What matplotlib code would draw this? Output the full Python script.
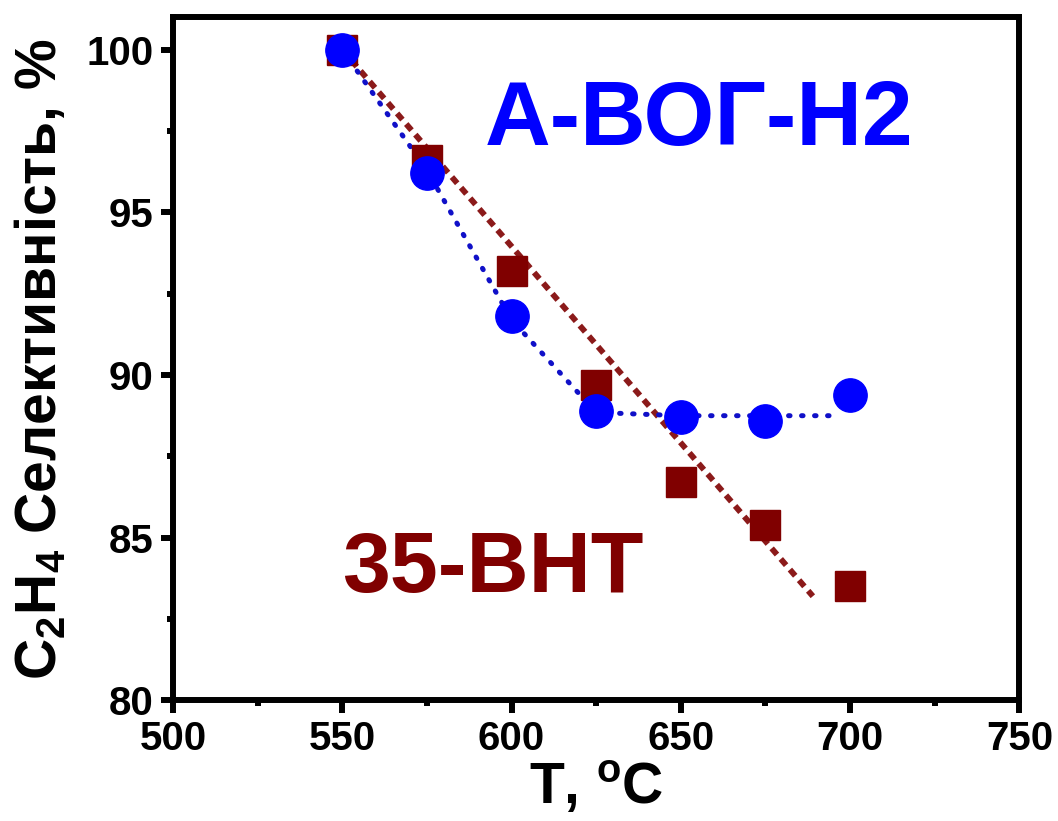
import matplotlib
matplotlib.use("Agg")
from matplotlib import pyplot as plt
from matplotlib.ticker import MultipleLocator

plt.rcParams['font.family'] = ['Liberation Sans', 'DejaVu Sans']
plt.rcParams['font.weight'] = 'bold'
plt.rcParams['mathtext.fontset'] = 'custom'
plt.rcParams['mathtext.rm'] = 'Liberation Sans:bold'
plt.rcParams['mathtext.it'] = 'Liberation Sans:bold'
plt.rcParams['mathtext.bf'] = 'Liberation Sans:bold'

# Data
temp = [550, 575, 600, 625, 650, 675, 700]
sel_vog = [100.0, 96.2, 91.8, 88.9, 88.7, 88.6, 89.4]
sel_vnt = [100.0, 96.6, 93.2, 89.7, 86.7, 85.4, 83.5]

# guide lines drawn in the original
vog_line_x = [550, 575, 600, 625, 650, 675, 697]
vog_line_y = [100.0, 96.3, 91.7, 88.85, 88.75, 88.75, 88.75]
vnt_line_x = [550, 689]
vnt_line_y = [100.0, 83.2]

fig = plt.figure(figsize=(10.58, 8.21), dpi=100)
ax = fig.add_axes([0.1635, 0.147, 0.8, 0.832])

ax.plot(vnt_line_x, vnt_line_y, color='#8b1a1a', lw=4.2,
        linestyle=(0, (1.4, 1.0)), zorder=2)
ax.plot(vog_line_x, vog_line_y, color='#1010c8', lw=3.6,
        linestyle=(0, (0.3, 2.3)), dash_capstyle='round', zorder=2)
ax.plot(temp, sel_vnt, 's', color='#800000', ms=21, zorder=3)
ax.plot(temp, sel_vog, 'o', color='#0000ff', ms=24, zorder=4)

ax.text(655.5, 97.07, 'А-ВОГ-Н2', color='#0000ff', fontsize=65.5,
        fontweight='bold', ha='center', va='baseline')
ax.text(594.5, 83.32, '35-ВНТ', color='#800000', fontsize=62,
        fontweight='bold', ha='center', va='baseline')

ax.set_xlim(500, 750)
ax.set_ylim(80, 101)
ax.xaxis.set_major_locator(MultipleLocator(50))
ax.xaxis.set_minor_locator(MultipleLocator(25))
ax.yaxis.set_major_locator(MultipleLocator(5))
ax.yaxis.set_minor_locator(MultipleLocator(2.5))

for s in ax.spines.values():
    s.set_linewidth(4.3)
ax.tick_params(which='major', direction='out', length=9, width=4.3,
               labelsize=29, pad=5)
ax.tick_params(which='minor', direction='out', length=4.5, width=4.3)

ax.set_xlabel('T, $^{o}$C', fontsize=41, fontweight='bold', labelpad=1)
ax.set_ylabel('C$_2$H$_4$ Селективність, %', fontsize=41,
              fontweight='bold', labelpad=13)

fig.savefig('out.png', dpi=100)
